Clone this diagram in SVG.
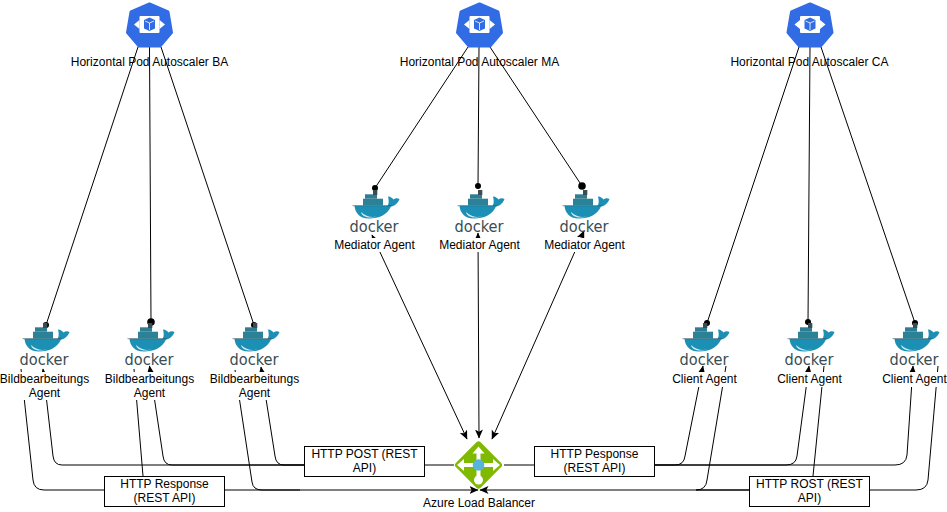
<svg xmlns="http://www.w3.org/2000/svg" width="947" height="512" viewBox="0 0 947 512">
<style>
text{font-family:"Liberation Sans",Arial,sans-serif;font-size:12px;fill:#000;text-anchor:middle}
.c{fill:none;stroke:#000;stroke-width:1}
.box{fill:#fff;stroke:#000;stroke-width:1}
.bg{fill:#fff}
.dw{font-family:"DejaVu Sans",sans-serif;font-size:15px;fill:#394d54}
.k{fill:#326ce5;stroke:#326ce5;stroke-width:3;stroke-linejoin:round}
</style>
<defs>
<marker id="arr" markerWidth="10" markerHeight="10" refX="8.5" refY="4" orient="auto" markerUnits="userSpaceOnUse"><path d="M0 0L9 4L0 8L2.2 4Z" fill="#000"/></marker>
<marker id="arrS" markerWidth="10" markerHeight="10" refX="8.5" refY="4" orient="auto-start-reverse" markerUnits="userSpaceOnUse"><path d="M0 0L9 4L0 8L2.2 4Z" fill="#000"/></marker>
<marker id="ov" markerWidth="8" markerHeight="8" refX="4" refY="4" markerUnits="userSpaceOnUse"><circle cx="4" cy="4" r="3" fill="#000"/></marker>
<marker id="ovL" markerWidth="10" markerHeight="10" refX="5" refY="5" markerUnits="userSpaceOnUse"><circle cx="5" cy="5" r="3.800" fill="#000"/></marker>
<g id="docker">
<path d="M-19.500 21.700H13.500C15.500 19 14.500 15 14 12.500C17 12.500 18.500 14.500 19.500 15.500C21.500 14 23.500 14 25.500 15C24 19 21 22 17 22.500C13 31 5 34.500 -5 34.500C-15 34.500 -19 28 -19.500 21.700Z" fill="#1c8fb5"/>
<path d="M-13 28C-8 33 -2 33.500 3 32.500C-3 34.500 -12 34 -13 28Z" fill="#cfeaf3"/>
<path d="M-21.500 21.700H18" stroke="#394d54" stroke-width=".6" fill="none"/>
<rect x="-11" y="14.700" width="20" height="7" fill="#2b8297"/>
<rect x="-9" y="10.300" width="12" height="4.400" fill="#2f7d92"/>
<rect x="-1" y="6" width="4.300" height="5" fill="#394d54"/>
<text class="dw" x="0" y="47.500" textLength="49" lengthAdjust="spacingAndGlyphs">docker</text>
</g>
<g id="hpa">
<path class="k" d="M0 -20L18.500 -12L22 8.500L10.500 22H-10.500L-22 8.500L-18.500 -12Z"/>
<rect x="-10" y="-8" width="20" height="17" rx="1" fill="#fff"/>
<path d="M-5.500 -4L0 -6.500L5.500 -4V4.500L0 7L-5.500 4.500Z" fill="#326ce5"/>
<path d="M-4.500 -3L0 -1L4.500 -3M0 -1V6" fill="none" stroke="#fff" stroke-width=".8"/>
<path d="M-10 -4L-15.500 .5L-10 5ZM10 -4L15.500 .5L10 5Z" fill="#fff"/>
</g>
</defs>

<g id="connectors">
<path class="c" marker-end="url(#ov)" d="M138 47L46 325"/>
<path class="c" marker-end="url(#ovL)" d="M149.500 47L151 322"/>
<path class="c" marker-end="url(#ov)" d="M161 47L254 325"/>
<path class="c" marker-end="url(#ov)" d="M468 47L375 188"/>
<path class="c" marker-end="url(#ov)" d="M479 47L478 186"/>
<path class="c" marker-end="url(#ovL)" d="M490 47L582 186"/>
<path class="c" marker-end="url(#ov)" d="M799 47L707 323"/>
<path class="c" marker-end="url(#ov)" d="M810 47L808 322"/>
<path class="c" marker-end="url(#ov)" d="M821 47L915 323"/>
<path class="c" marker-start="url(#arrS)" marker-end="url(#arr)" d="M372 235L467 439"/>
<path class="c" marker-start="url(#arrS)" marker-end="url(#arr)" d="M478 233L479 438"/>
<path class="c" marker-start="url(#arrS)" marker-end="url(#arr)" d="M584 231L492 439"/>
<path class="c" marker-start="url(#arrS)" d="M43 369L53 456Q54 465 62 465H454"/>
<path class="c" marker-start="url(#arrS)" d="M149.500 366L163 456Q164 465 172 465H304"/>
<path class="c" marker-start="url(#arrS)" d="M261 367L275 456Q276 465 284 465H304"/>
<path class="c" marker-start="url(#arrS)" d="M703 366L685 456Q684 465 675 465H504"/>
<path class="c" marker-start="url(#arrS)" d="M809 366L797 456Q796 465 786 465H654"/>
<path class="c" marker-start="url(#arrS)" d="M913 366L907 455Q906 465 895 465H654"/>
<path class="c" d="M21 369L33 480Q34 490 44 490H104"/>
<path class="c" d="M134 369L143 476"/>
<path class="c" d="M235 370L252 482Q253 490 262 490H300"/>
<path class="c" d="M224 490H478" marker-end="url(#arr)"/>
<path class="c" d="M726 366L707 480Q706 490 696 490H749"/>
<path class="c" d="M824 366L813 476"/>
<path class="c" d="M938 366L928 480Q927 490 916 490H870"/>
<path class="c" d="M749 490H480" marker-end="url(#arr)"/>
</g>

<g id="hpa-ba"><use href="#hpa" x="149.500" y="24"/><text x="149.500" y="66">Horizontal Pod Autoscaler BA</text></g>
<g id="hpa-ma"><use href="#hpa" x="479.500" y="24"/><text x="479.500" y="66">Horizontal Pod Autoscaler MA</text></g>
<g id="hpa-ca"><use href="#hpa" x="810" y="24"/><text x="809.500" y="66">Horizontal Pod Autoscaler CA</text></g>

<g id="mediator-1"><use href="#docker" x="374" y="184"/><rect class="bg" x="333" y="238" width="82" height="14"/><text x="374.500" y="249">Mediator Agent</text></g>
<g id="mediator-2"><use href="#docker" x="479" y="184"/><rect class="bg" x="438" y="238" width="84" height="14"/><text x="479.500" y="249">Mediator Agent</text></g>
<g id="mediator-3"><use href="#docker" x="584" y="184"/><rect class="bg" x="543" y="238" width="84" height="14"/><text x="584.500" y="249">Mediator Agent</text></g>

<g id="ba-1"><use href="#docker" x="44" y="317"/><rect class="bg" x="0" y="372" width="90" height="28"/><text x="44.500" y="383">Bildbearbeitungs</text><text x="44.500" y="397">Agent</text></g>
<g id="ba-2"><use href="#docker" x="149" y="317"/><rect class="bg" x="104" y="372" width="90" height="28"/><text x="149.500" y="383">Bildbearbeitungs</text><text x="149.500" y="397">Agent</text></g>
<g id="ba-3"><use href="#docker" x="254" y="317"/><rect class="bg" x="209" y="372" width="90" height="28"/><text x="254.500" y="383">Bildbearbeitungs</text><text x="254.500" y="397">Agent</text></g>

<g id="client-1"><use href="#docker" x="704" y="317"/><rect class="bg" x="672" y="372" width="65" height="15"/><text x="704.500" y="383">Client Agent</text></g>
<g id="client-2"><use href="#docker" x="809" y="317"/><rect class="bg" x="777" y="372" width="65" height="15"/><text x="809.500" y="383">Client Agent</text></g>
<g id="client-3"><use href="#docker" x="914" y="317"/><rect class="bg" x="882" y="372" width="65" height="15"/><text x="914.500" y="383">Client Agent</text></g>

<g id="load-balancer">
<rect x="461" y="447.500" width="35" height="35" rx="3" transform="rotate(45 478.500 465)" fill="#7fba00"/>
<path d="M478.500 446.500L484.500 453.500H480.500V463H493V459L500 465L493 471V467H480.500V476H476.500V467H464V471L457 465L464 459V463H476.500V453.500H472.500Z" fill="#fff"/>
<circle cx="478.500" cy="480" r="4.500" fill="#fff"/>
<circle cx="478.500" cy="465" r="5.800" fill="#59b4d9"/>
<text x="479" y="507">Azure Load Balancer</text>
</g>

<g id="label-post"><rect class="box" x="304.500" y="446.500" width="120" height="30"/><text x="364.500" y="458">HTTP POST (REST</text><text x="364.500" y="472">API)</text></g>
<g id="label-pesponse"><rect class="box" x="534.500" y="446.500" width="120" height="30"/><text x="594.500" y="458">HTTP Pesponse</text><text x="594.500" y="472">(REST API)</text></g>
<g id="label-response"><rect class="box" x="104.500" y="476.500" width="120" height="30"/><text x="164.500" y="488">HTTP Response</text><text x="164.500" y="502">(REST API)</text></g>
<g id="label-rost"><rect class="box" x="749.500" y="476.500" width="120" height="30"/><text x="809.500" y="488">HTTP ROST (REST</text><text x="809.500" y="502">API)</text></g>
</svg>
